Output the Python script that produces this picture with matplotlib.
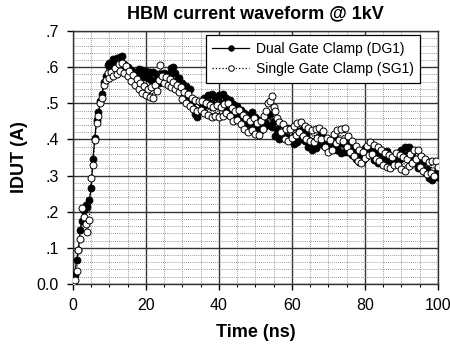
import numpy as np
import matplotlib
matplotlib.use("Agg")
import matplotlib.pyplot as plt
from matplotlib.ticker import MultipleLocator, FixedLocator, FixedFormatter

plt.rcParams['font.family'] = ['Liberation Sans', 'DejaVu Sans']

# Sampling instants (ns)
time_ns = np.arange(0, 100.5, 0.5)

# Dual Gate Clamp (DG1) current, A
dg1_current = [
    0.000, 0.025, 0.065, 0.095, 0.150, 0.175, 0.205, 0.218, 0.212, 0.232,
    0.265, 0.345, 0.405, 0.455, 0.475, 0.505, 0.525, 0.560, 0.575, 0.605,
    0.612, 0.600, 0.622, 0.605, 0.625, 0.612, 0.628, 0.632, 0.610, 0.598,
    0.600, 0.578, 0.592, 0.570, 0.588, 0.575, 0.595, 0.580, 0.592, 0.572,
    0.590, 0.570, 0.588, 0.565, 0.586, 0.560, 0.580, 0.555, 0.582, 0.568,
    0.585, 0.562, 0.580, 0.570, 0.598, 0.600, 0.585, 0.565, 0.570, 0.545,
    0.555, 0.530, 0.548, 0.520, 0.540, 0.500, 0.505, 0.470, 0.462, 0.480,
    0.500, 0.485, 0.515, 0.495, 0.522, 0.500, 0.526, 0.492, 0.518, 0.495,
    0.522, 0.500, 0.527, 0.495, 0.515, 0.485, 0.508, 0.478, 0.498, 0.470,
    0.492, 0.462, 0.482, 0.450, 0.472, 0.445, 0.468, 0.442, 0.475, 0.450,
    0.462, 0.432, 0.455, 0.425, 0.452, 0.435, 0.468, 0.440, 0.470, 0.435,
    0.450, 0.410, 0.430, 0.402, 0.418, 0.405, 0.428, 0.408, 0.432, 0.400,
    0.398, 0.388, 0.412, 0.392, 0.422, 0.400, 0.428, 0.395, 0.412, 0.380,
    0.395, 0.372, 0.390, 0.375, 0.402, 0.388, 0.412, 0.385, 0.402, 0.376,
    0.395, 0.372, 0.398, 0.378, 0.402, 0.370, 0.390, 0.362, 0.390, 0.366,
    0.398, 0.366, 0.385, 0.356, 0.370, 0.345, 0.358, 0.338, 0.362, 0.342,
    0.375, 0.355, 0.382, 0.360, 0.370, 0.342, 0.362, 0.335, 0.355, 0.336,
    0.365, 0.344, 0.368, 0.340, 0.352, 0.328, 0.348, 0.332, 0.362, 0.345,
    0.372, 0.350, 0.378, 0.356, 0.380, 0.352, 0.365, 0.335, 0.345, 0.320,
    0.342, 0.322, 0.338, 0.310, 0.318, 0.294, 0.300, 0.288, 0.305, 0.296,
    0.320,
]

# Single Gate Clamp (SG1) current, A
sg1_current = [
    0.005, 0.012, 0.035, 0.095, 0.125, 0.210, 0.185, 0.165, 0.145, 0.178,
    0.292, 0.328, 0.398, 0.445, 0.465, 0.500, 0.515, 0.552, 0.565, 0.585,
    0.570, 0.588, 0.575, 0.598, 0.582, 0.608, 0.590, 0.612, 0.585, 0.604,
    0.575, 0.590, 0.562, 0.578, 0.550, 0.568, 0.540, 0.555, 0.528, 0.548,
    0.522, 0.540, 0.518, 0.545, 0.515, 0.550, 0.535, 0.565, 0.605, 0.575,
    0.555, 0.572, 0.550, 0.568, 0.545, 0.560, 0.540, 0.552, 0.530, 0.545,
    0.512, 0.532, 0.500, 0.525, 0.492, 0.515, 0.485, 0.508, 0.480, 0.505,
    0.482, 0.505, 0.472, 0.500, 0.468, 0.495, 0.462, 0.490, 0.465, 0.495,
    0.462, 0.490, 0.465, 0.498, 0.472, 0.500, 0.465, 0.488, 0.452, 0.480,
    0.455, 0.482, 0.442, 0.468, 0.430, 0.460, 0.420, 0.452, 0.425, 0.460,
    0.415, 0.445, 0.412, 0.450, 0.428, 0.465, 0.480, 0.500, 0.505, 0.519,
    0.490, 0.478, 0.458, 0.448, 0.420, 0.442, 0.400, 0.430, 0.395, 0.428,
    0.405, 0.438, 0.412, 0.445, 0.420, 0.448, 0.410, 0.438, 0.400, 0.432,
    0.395, 0.425, 0.392, 0.430, 0.405, 0.432, 0.400, 0.422, 0.380, 0.405,
    0.365, 0.398, 0.372, 0.415, 0.390, 0.425, 0.398, 0.428, 0.396, 0.433,
    0.380, 0.410, 0.366, 0.395, 0.355, 0.382, 0.340, 0.370, 0.334, 0.365,
    0.348, 0.382, 0.356, 0.392, 0.360, 0.385, 0.345, 0.378, 0.340, 0.372,
    0.330, 0.362, 0.325, 0.358, 0.320, 0.350, 0.328, 0.362, 0.330, 0.358,
    0.318, 0.350, 0.312, 0.345, 0.326, 0.360, 0.335, 0.370, 0.345, 0.372,
    0.325, 0.355, 0.312, 0.345, 0.305, 0.338, 0.308, 0.340, 0.300, 0.340,
    0.325,
]

series_labels = ["Dual Gate Clamp (DG1)", "Single Gate Clamp (SG1)"]
y_ticks = [0.0, 0.1, 0.2, 0.3, 0.4, 0.5, 0.6, 0.7]
y_tick_labels = ["0.0", ".1", ".2", ".3", ".4", ".5", ".6", ".7"]
x_ticks = [0, 20, 40, 60, 80, 100]

fig = plt.figure(figsize=(4.5, 3.45), dpi=100)
ax = fig.add_axes([0.162, 0.177, 0.811, 0.733])

ax.plot(time_ns, dg1_current, '-', color='black', lw=0.9,
        marker='o', ms=5.0, mfc='black', mec='black', mew=0.6,
        label=series_labels[0], zorder=3)
ax.plot(time_ns, sg1_current, ':', color='black', lw=0.9,
        marker='o', ms=5.0, mfc='white', mec='black', mew=0.7,
        label=series_labels[1], zorder=4)

ax.set_xlim(0, 100)
ax.set_ylim(0, 0.7)
ax.xaxis.set_major_locator(FixedLocator(x_ticks))
ax.xaxis.set_minor_locator(MultipleLocator(5))
ax.yaxis.set_major_locator(FixedLocator(y_ticks))
ax.yaxis.set_major_formatter(FixedFormatter(y_tick_labels))
ax.yaxis.set_minor_locator(MultipleLocator(0.02))

ax.grid(which='major', color='#333333', lw=1.0, ls='-')
ax.grid(which='minor', color='#777777', lw=0.6, ls=(0, (1, 1.5)))
ax.set_axisbelow(True)

for s in ax.spines.values():
    s.set_color('#333333')
    s.set_linewidth(1.0)

ax.tick_params(which='major', direction='out', length=4, width=1.0,
               labelsize=11.5, colors='black', pad=6)
ax.tick_params(which='minor', direction='out', length=2.5, width=0.7)
ax.tick_params(axis='y', which='minor', length=0)

ax.set_title("HBM current waveform @ 1kV", fontsize=13, fontweight='bold', pad=9)
ax.set_xlabel("Time (ns)", fontsize=13, fontweight='bold', labelpad=8)
ax.set_ylabel("IDUT (A)", fontsize=13, fontweight='bold', labelpad=6)

leg = ax.legend(loc='upper right', bbox_to_anchor=(0.952, 0.985),
                fontsize=10.0, frameon=True, fancybox=False, framealpha=1,
                edgecolor='black', borderpad=0.5, handlelength=2.6,
                handletextpad=0.5, labelspacing=0.45, borderaxespad=0)
leg.get_frame().set_linewidth(0.9)
for h in leg.legend_handles:
    h.set_markersize(4.0)

fig.savefig("out.png", dpi=100)
